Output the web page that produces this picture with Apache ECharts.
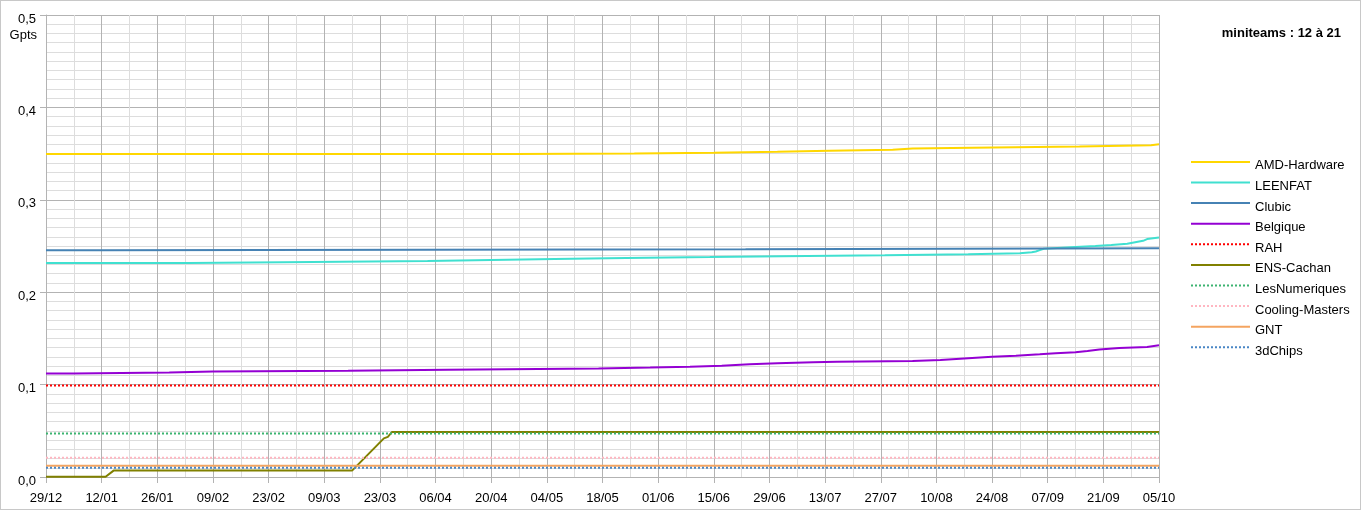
<!DOCTYPE html>
<html>
<head>
<meta charset="utf-8">
<script src="https://cdn.jsdelivr.net/npm/echarts@6/dist/echarts.min.js"></script>
<style>
  html, body { margin: 0; padding: 0; background: #fff; }
  #chart { width: 1361px; height: 510px; box-sizing: border-box; border: 1px solid #c8c8c8; }
</style>
</head>
<body>
<div id="chart"></div>
<script>
// ---- Data (x = days since 29/12, y = Gpts) ----
const xTickLabels = ['29/12','12/01','26/01','09/02','23/02','09/03','23/03','06/04','20/04','04/05','18/05','01/06','15/06','29/06','13/07','27/07','10/08','24/08','07/09','21/09','05/10'];
const yTickLabels = ['0,0','0,1','0,2','0,3','0,4','0,5'];
const chartTitle = 'miniteams : 12 à 21';
const unitLabel = 'Gpts';

const amdDays   = [0, 118, 148, 168, 184, 197, 213, 218, 233, 260, 278, 280];
const amdValues = [0.3497, 0.3500, 0.3509, 0.3520, 0.3530, 0.3541, 0.3554, 0.3564, 0.3577, 0.3591, 0.3600, 0.3600];

const leenfatDays   = [0, 36, 67, 96, 112, 128, 146, 167, 185, 211, 232, 245, 248, 249, 250, 251, 259, 264, 268, 272, 274, 276, 277, 280];
const leenfatValues = [0.2317, 0.2328, 0.2338, 0.2349, 0.2359, 0.2370, 0.2380, 0.2390, 0.2401, 0.2411, 0.2422, 0.2432, 0.2440, 0.2455, 0.2470, 0.2489, 0.2500, 0.2511, 0.2524, 0.2540, 0.2556, 0.2575, 0.2592, 0.2592];

const clubicDays   = [0, 14, 176, 280];
const clubicValues = [0.2454, 0.2464, 0.2475, 0.2475];

const belgiqueDays   = [0, 7, 31, 42, 76, 101, 139, 152, 162, 170, 177, 184, 193, 199, 218, 225, 229, 233, 238, 244, 250, 254, 259, 262, 265, 270, 277, 280];
const belgiqueValues = [0.1119, 0.1130, 0.1141, 0.1151, 0.1162, 0.1173, 0.1184, 0.1194, 0.1205, 0.1220, 0.1230, 0.1241, 0.1248, 0.1256, 0.1266, 0.1277, 0.1288, 0.1302, 0.1313, 0.1328, 0.1339, 0.1350, 0.1364, 0.1379, 0.1397, 0.1408, 0.1425, 0.1425];

const rahDays   = [0, 280];
const rahValues = [0.0990, 0.0990];

const ensDays   = [0, 15, 17, 77, 85, 86, 87, 280];
const ensValues = [0.0003, 0.0003, 0.0069, 0.0069, 0.0418, 0.0435, 0.0486, 0.0488];

const lesNumDays   = [0, 280];
const lesNumValues = [0.0470, 0.0470];

const coolingDays   = [0, 280];
const coolingValues = [0.0207, 0.0207];

const gntDays   = [0, 280];
const gntValues = [0.0121, 0.0121];

const chipsDays   = [0, 280];
const chipsValues = [0.0101, 0.0101];

function pairs(days, values) { return days.map((d, i) => [d, values[i]]); }

const seriesDefs = [
  { name: 'AMD-Hardware',    days: amdDays,      values: amdValues,      color: '#ffd700', type: 'solid',  step: 'end' },
  { name: 'LEENFAT',         days: leenfatDays,  values: leenfatValues,  color: '#40e0d0', type: 'solid',  step: 'end' },
  { name: 'Clubic',          days: clubicDays,   values: clubicValues,   color: '#4682b4', type: 'solid',  step: 'end' },
  { name: 'Belgique',        days: belgiqueDays, values: belgiqueValues, color: '#9400d3', type: 'solid',  step: 'end' },
  { name: 'RAH',             days: rahDays,      values: rahValues,      color: '#ff0000', type: [2, 2],   step: false },
  { name: 'ENS-Cachan',      days: ensDays,      values: ensValues,      color: '#808000', type: 'solid',  step: false },
  { name: 'LesNumeriques',   days: lesNumDays,   values: lesNumValues,   color: '#3cb371', type: [2, 2],   step: false },
  { name: 'Cooling-Masters', days: coolingDays,  values: coolingValues,  color: '#ffb6c1', type: [2, 2],   step: false },
  { name: 'GNT',             days: gntDays,      values: gntValues,      color: '#f4a460', type: 'solid',  step: false },
  { name: '3dChips',         days: chipsDays,    values: chipsValues,    color: '#4a86c5', type: [2, 2],   step: false }
];

const FONT = 'Liberation Sans, Arial, sans-serif';
const chart = echarts.init(document.getElementById('chart'), null, { renderer: 'canvas' });

chart.setOption({
  animation: false,
  backgroundColor: '#ffffff',
  textStyle: { fontFamily: FONT },
  title: {
    text: chartTitle,
    right: 14, top: 21,
    textStyle: { fontSize: 13, fontWeight: 'bold', color: '#000', fontFamily: FONT }
  },
  graphic: [{
    type: 'text',
    style: { text: unitLabel, x: 36, y: 34, align: 'right', verticalAlign: 'middle',
             font: '13px ' + FONT, fill: '#000' }
  }],
  legend: {
    orient: 'vertical',
    left: 1189, top: 152.5,
    padding: 0,
    itemWidth: 59, itemHeight: 21, itemGap: 1.7,
    itemStyle: { opacity: 0 },
    formatter: name => '{a|' + name + '}',
    textStyle: { fontSize: 13, color: '#000', fontFamily: FONT,
                 rich: { a: { fontSize: 13, color: '#000', fontFamily: FONT, padding: [8, 0, 0, 0] } } },
    data: seriesDefs.map(s => s.name)
  },
  grid: { left: 45, right: 201, top: 14, bottom: 32, containLabel: false, outerBoundsMode: 'none' },
  xAxis: {
    type: 'value', min: 0, max: 280, interval: 14,
    axisLine: { show: true, lineStyle: { color: '#b3b3b3', width: 1 } },
    axisTick: { show: true, length: 6, lineStyle: { color: '#b3b3b3' } },
    axisLabel: { color: '#000', fontSize: 13, margin: 15, fontFamily: FONT,
                 formatter: v => xTickLabels[Math.round(v / 14)] },
    splitLine: { show: true, lineStyle: { color: '#b3b3b3', width: 1 } },
    minorTick: { show: false, splitNumber: 2 },
    minorSplitLine: { show: true, lineStyle: { color: '#dddddd', width: 1 } }
  },
  yAxis: {
    type: 'value', min: 0, max: 0.5, interval: 0.1,
    axisLine: { show: true, lineStyle: { color: '#b3b3b3', width: 1 } },
    axisTick: { show: true, length: 6, lineStyle: { color: '#b3b3b3' } },
    axisLabel: { color: '#000', fontSize: 13, margin: 10, fontFamily: FONT,
                 formatter: v => '{a|' + yTickLabels[Math.round(v * 10)] + '}',
                 rich: { a: { fontSize: 13, color: '#000', fontFamily: FONT, padding: [8, 0, 0, 0] } } },
    splitLine: { show: true, lineStyle: { color: '#b3b3b3', width: 1 } },
    minorTick: { show: false, splitNumber: 10 },
    minorSplitLine: { show: true, lineStyle: { color: '#dddddd', width: 1 } }
  },
  series: seriesDefs.map(s => ({
    name: s.name,
    type: 'line',
    step: s.step,
    symbol: 'none',
    showSymbol: false,
    color: s.color,
    lineStyle: { color: s.color, width: 2, type: s.type },
    data: pairs(s.days, s.values)
  }))
});
</script>
</body>
</html>
